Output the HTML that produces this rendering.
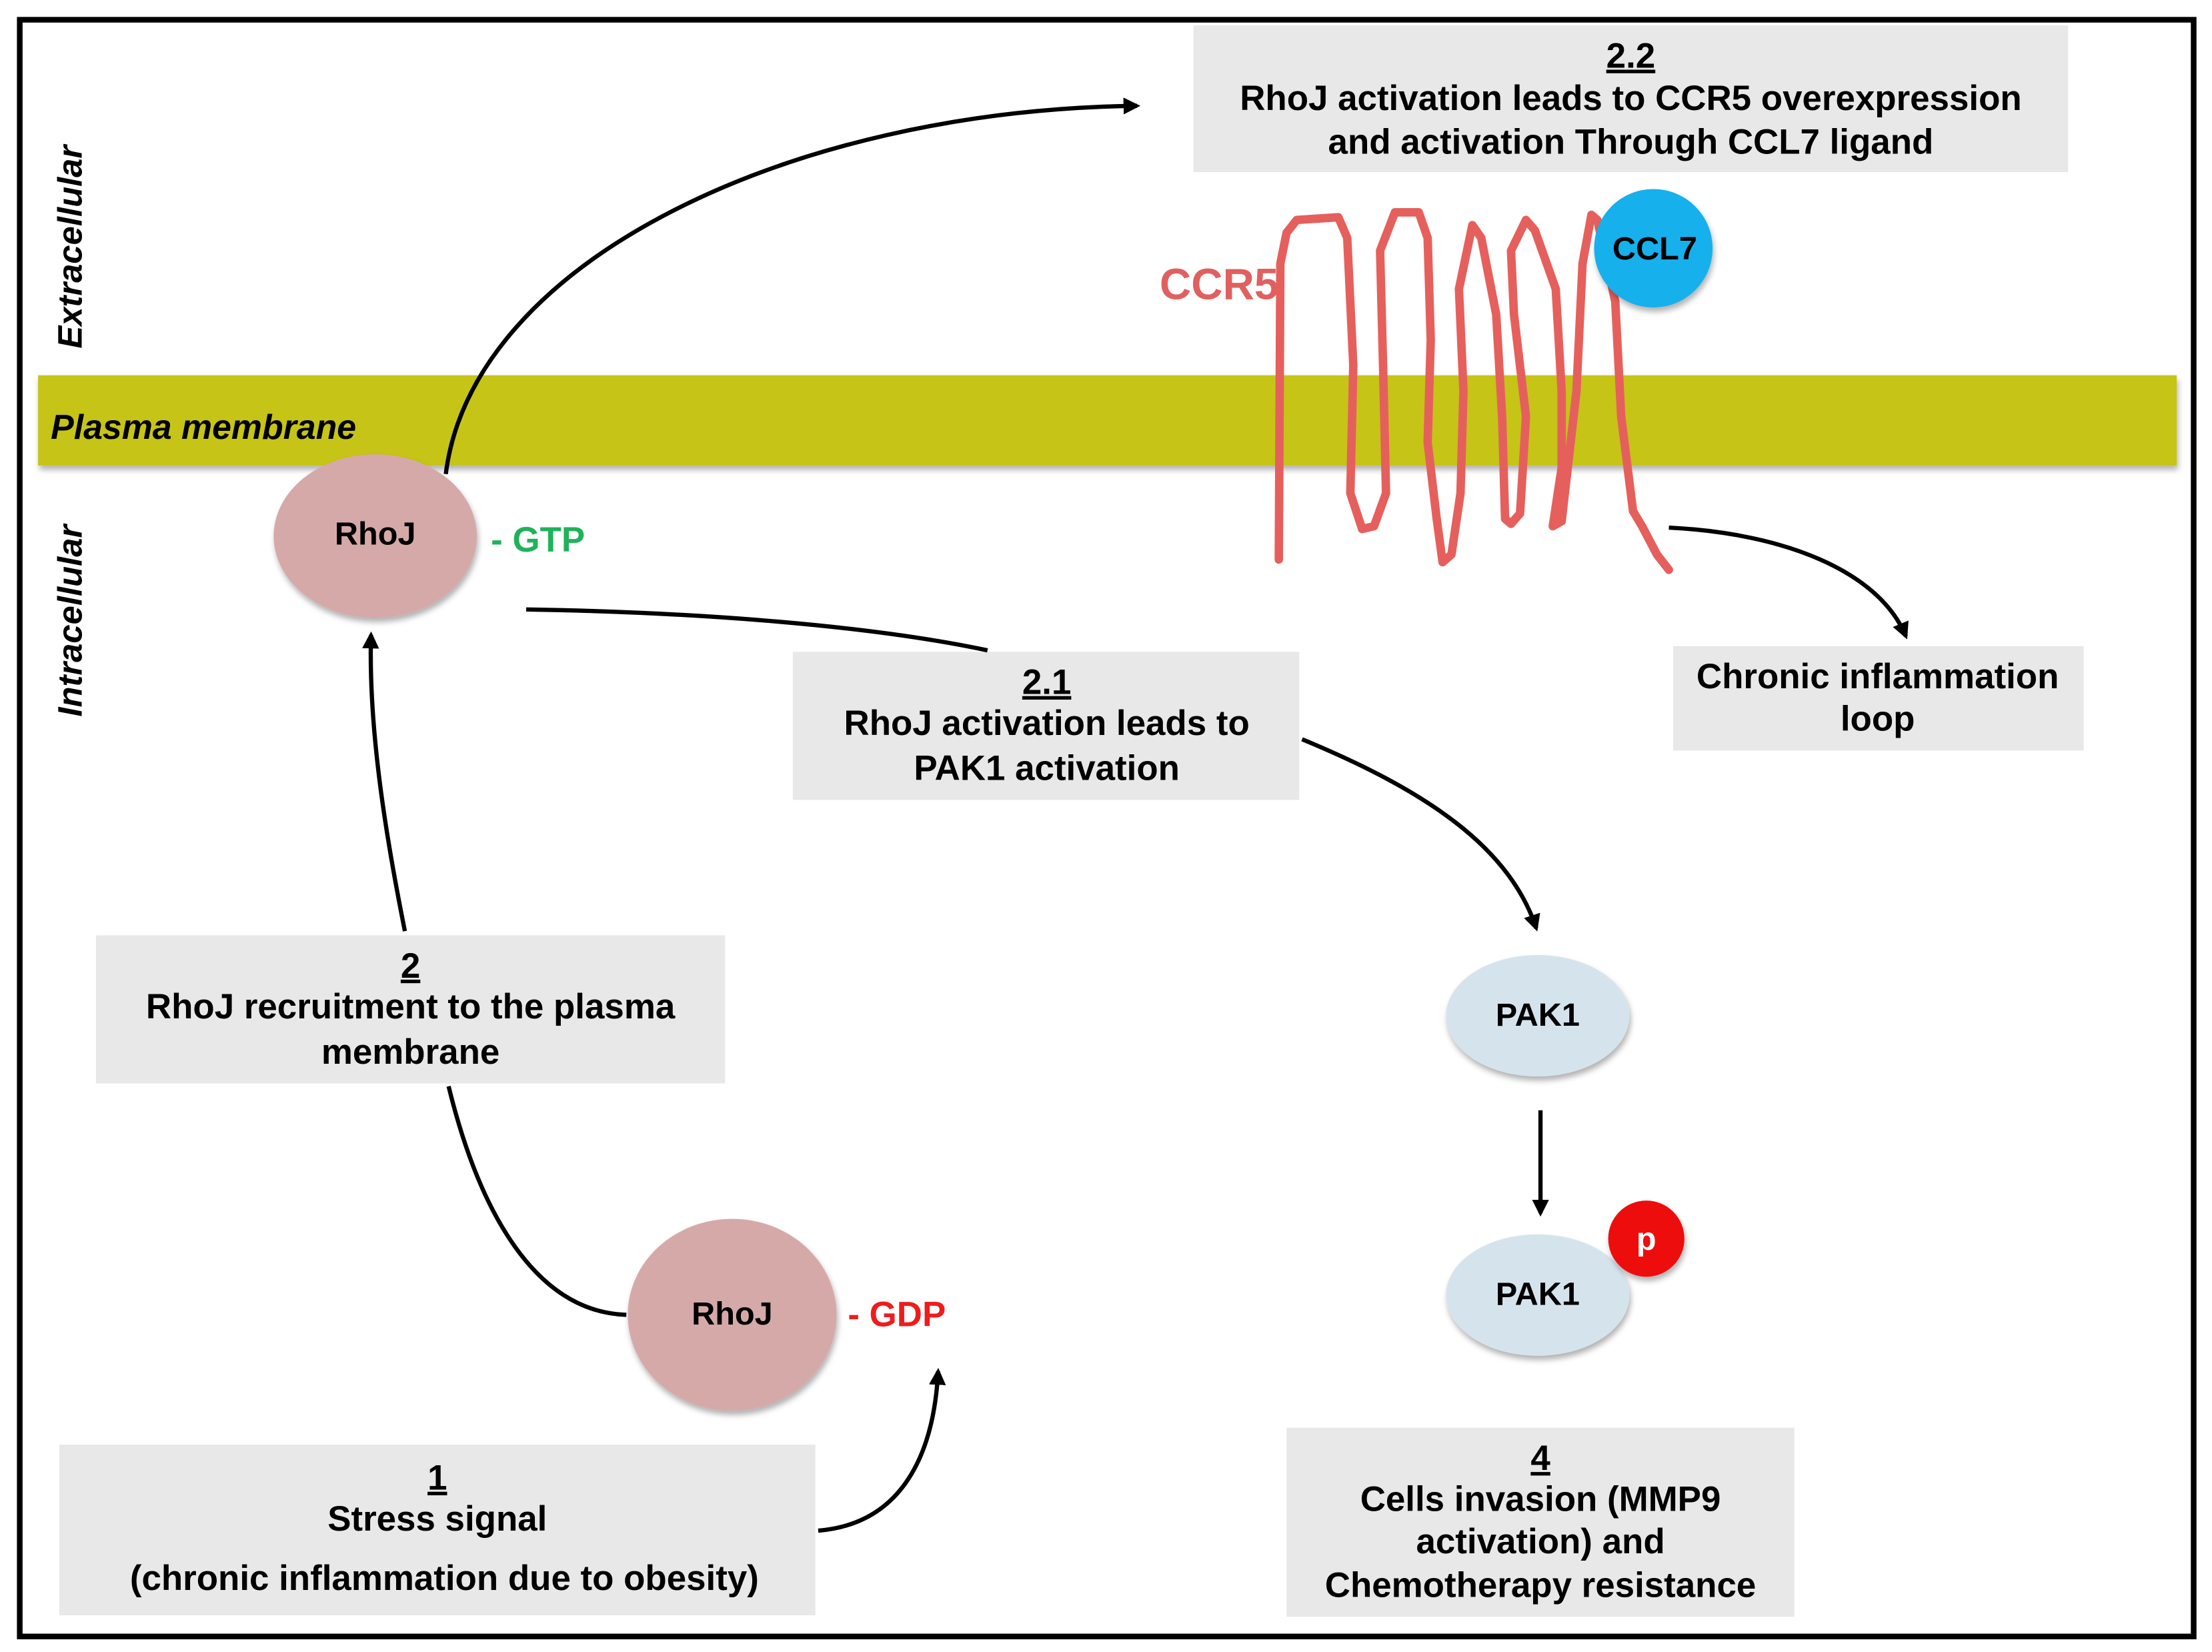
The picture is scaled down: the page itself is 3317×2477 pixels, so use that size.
<!DOCTYPE html>
<html><head><meta charset="utf-8"><style>
html,body{margin:0;padding:0;background:#fff;}
svg{display:block;}
text{font-family:"Liberation Sans",Arial,sans-serif;font-weight:bold;}
</style></head><body>
<svg width="3317" height="2477" viewBox="0 0 1568 1171" preserveAspectRatio="none" xmlns="http://www.w3.org/2000/svg">
<defs>
<marker id="ah" viewBox="0 0 10 10" refX="8" refY="5" markerWidth="4" markerHeight="4" orient="auto" markerUnits="strokeWidth">
<path d="M0,0 L10,5 L0,10 z" fill="#000"/>
</marker>
<filter id="sh" x="-20%" y="-20%" width="140%" height="150%"><feDropShadow dx="1" dy="3" stdDeviation="2" flood-color="#000" flood-opacity="0.3"/></filter>
</defs>
<rect x="0" y="0" width="1568" height="1171" fill="#fff"/>
<rect x="14" y="14" width="1541" height="1146" fill="none" stroke="#000" stroke-width="4"/>

<rect x="27" y="266" width="1516" height="64" fill="#c6c414" filter="url(#sh)"/>
<text x="36" y="311" font-size="24.5" font-style="italic">Plasma membrane</text>
<text transform="translate(58,175) rotate(-90)" font-size="24" font-style="italic" text-anchor="middle">Extracellular</text>
<text transform="translate(58,440) rotate(-90)" font-size="24" font-style="italic" text-anchor="middle">Intracellular</text>

<rect x="846" y="18" width="620" height="104" fill="#e8e8e8"/>
<text x="1156" y="48" font-size="25" text-anchor="middle" text-decoration="underline">2.2</text>
<text x="1156" y="78" font-size="25" text-anchor="middle">RhoJ activation leads to CCR5 overexpression</text>
<text x="1156" y="109" font-size="25" text-anchor="middle">and activation Through CCL7 ligand</text>

<rect x="562" y="462" width="359" height="105" fill="#e8e8e8"/>
<text x="742" y="492" font-size="25" text-anchor="middle" text-decoration="underline">2.1</text>
<text x="742" y="521" font-size="25" text-anchor="middle">RhoJ activation leads to</text>
<text x="742" y="553" font-size="25" text-anchor="middle">PAK1 activation</text>

<rect x="1186" y="458" width="291" height="74" fill="#e8e8e8"/>
<text x="1331" y="488" font-size="25" text-anchor="middle">Chronic inflammation</text>
<text x="1331" y="518" font-size="25" text-anchor="middle">loop</text>

<rect x="68" y="663" width="446" height="105" fill="#e8e8e8"/>
<text x="291" y="693" font-size="25" text-anchor="middle" text-decoration="underline">2</text>
<text x="291" y="722" font-size="25" text-anchor="middle">RhoJ recruitment to the plasma</text>
<text x="291" y="754" font-size="25" text-anchor="middle">membrane</text>

<rect x="42" y="1024" width="536" height="121" fill="#e8e8e8"/>
<text x="310" y="1056" font-size="25" text-anchor="middle" text-decoration="underline">1</text>
<text x="310" y="1085" font-size="25" text-anchor="middle">Stress signal</text>
<text x="315" y="1127" font-size="25" text-anchor="middle">(chronic inflammation due to obesity)</text>

<rect x="912" y="1012" width="360" height="134" fill="#e8e8e8"/>
<text x="1092" y="1042" font-size="25" text-anchor="middle" text-decoration="underline">4</text>
<text x="1092" y="1071" font-size="25" text-anchor="middle">Cells invasion (MMP9</text>
<text x="1092" y="1101" font-size="25" text-anchor="middle">activation) and</text>
<text x="1092" y="1132" font-size="25" text-anchor="middle">Chemotherapy resistance</text>

<g fill="none" stroke="#000" stroke-width="3">
<path d="M316,336 C335,185 560,78 806,75" marker-end="url(#ah)"/>
<path d="M373,432 C500,434 620,444 700,461"/>
<path d="M923,524 C1010,560 1070,600 1089,658" marker-end="url(#ah)"/>
<path d="M1183,374 C1265,378 1332,405 1351,451" marker-end="url(#ah)"/>
<path d="M1092,787 L1092,860" marker-end="url(#ah)"/>
<path d="M287,660 C275,600 261,520 263,450" marker-end="url(#ah)"/>
<path d="M444,932 C380,930 340,860 318,770"/>
<path d="M580,1085 C640,1080 662,1030 665,972" marker-end="url(#ah)"/>
</g>

<ellipse cx="266" cy="380" rx="72" ry="58" fill="#d6a9a9" filter="url(#sh)"/>
<text x="266" y="386" font-size="23" text-anchor="middle">RhoJ</text>
<text x="348" y="391" font-size="25" fill="#1fb25a">- GTP</text>

<ellipse cx="519" cy="932" rx="74" ry="68" fill="#d6a9a9" filter="url(#sh)"/>
<text x="519" y="939" font-size="23" text-anchor="middle">RhoJ</text>
<text x="601" y="940" font-size="25" fill="#ee1c1c">- GDP</text>

<ellipse cx="1090" cy="720" rx="65" ry="43" fill="#d5e4ec" filter="url(#sh)"/>
<text x="1090" y="727" font-size="23" text-anchor="middle">PAK1</text>
<ellipse cx="1090" cy="918" rx="65" ry="43" fill="#d5e4ec" filter="url(#sh)"/>
<text x="1090" y="925" font-size="23" text-anchor="middle">PAK1</text>
<circle cx="1167" cy="878" r="27" fill="#ee1111" filter="url(#sh)"/>
<text x="1167" y="886" font-size="23" fill="#fff" text-anchor="middle">p</text>

<text x="822" y="212" font-size="31" fill="#e06060">CCR5</text>
<polyline fill="none" stroke="#e5605c" stroke-width="6" stroke-linejoin="round" stroke-linecap="round"
points="906.5,396.6 907.6,186.7 912,165 919.2,155.9 948.7,154 955,168.6 959.3,259 957.2,349.6 965.6,375 974,373 982.5,349.6 980.4,259 978.3,177.7 988.8,150.5 1005.7,150.5 1012,168.6 1014.2,241 1012,313.4 1018.4,367.7 1022.6,398.5 1028.9,393 1035.3,349.6 1037.4,277.2 1034.2,204.8 1043.7,159.6 1050,168.6 1060.6,222.9 1064.8,295.3 1066.9,367.7 1071.1,371.3 1077.5,364 1081.7,295.3 1073.2,222.9 1071.1,177.7 1081.7,155.9 1088,163.2 1102.8,204.8 1107,277.2 1107,331.5 1100.7,373 1107,369.5 1117.5,277.2 1121.8,186.7 1128.1,152.3 1132.3,155.9 1145,213.8 1149.2,295.3 1157.6,362.3 1164,373 1174.5,393 1183,403.9"/>
<circle cx="1172" cy="176" r="42" fill="#15b0ec" filter="url(#sh)"/>
<text x="1173" y="184" font-size="23" text-anchor="middle">CCL7</text>
</svg>
</body></html>
